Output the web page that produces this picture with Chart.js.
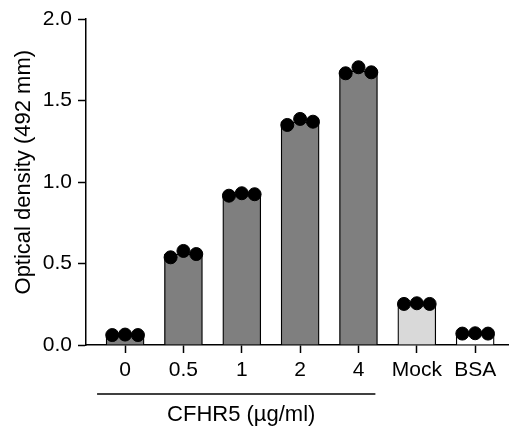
<!DOCTYPE html>
<html>
<head>
<meta charset="utf-8">
<script src="https://cdn.jsdelivr.net/npm/chart.js@4"></script>
<style>
  html, body { margin: 0; padding: 0; background: #fff; }
  #wrap { width: 509px; height: 430px; }
</style>
</head>
<body>
<div id="wrap"><canvas id="chart"></canvas></div>
<script>
// データ
const categories = ['0', '0.5', '1', '2', '4', 'Mock', 'BSA'];
const replicates = [
    [0.061, 0.064, 0.061],
    [0.538, 0.577, 0.558],
    [0.916, 0.931, 0.925],
    [1.350, 1.387, 1.370],
    [1.667, 1.704, 1.673],
    [0.252, 0.256, 0.252],
    [0.070, 0.072, 0.070]
];
const barFills = ['#7f7f7f', '#7f7f7f', '#7f7f7f', '#7f7f7f', '#7f7f7f', '#d9d9d9', '#ffffff'];
const yTicks = [0, 0.5, 1.0, 1.5, 2.0];
const yTitle = 'Optical density (492 mm)';
const groupLabel = 'CFHR5 (µg/ml)';
const dotOffsets = [-0.22, 0, 0.22];

const FONT = '"Liberation Sans", Arial, sans-serif';

const means = replicates.map(r => r.reduce((a, b) => a + b, 0) / r.length);
const barData = means.map((v, i) => ({ x: i, y: v }));
const dotData = [];
replicates.forEach((r, i) => {
    r.forEach((v, j) => dotData.push({ x: i + dotOffsets[j], y: v }));
});

// 縦軸タイトルと CFHR5 の括弧線
const labelPlugin = {
    id: 'labelPlugin',
    afterDraw(chart) {
        const ctx = chart.ctx;
        const xs = chart.scales.x;
        const ys = chart.scales.y;
        const base = chart.chartArea.bottom;
        const x1 = xs.getPixelForValue(-0.48);
        const x2 = xs.getPixelForValue(4.29);
        ctx.save();
        ctx.strokeStyle = '#000';
        ctx.lineWidth = 1.5;
        ctx.beginPath();
        ctx.moveTo(x1, base + 49);
        ctx.lineTo(x2, base + 49);
        ctx.stroke();
        ctx.fillStyle = '#000';
        ctx.font = '22px ' + FONT;
        ctx.textAlign = 'center';
        ctx.textBaseline = 'middle';
        ctx.fillText(groupLabel, (x1 + x2) / 2 + 5, base + 70);

        // 縦軸タイトル
        ctx.translate(24, ys.getPixelForValue(1.06));
        ctx.rotate(-Math.PI / 2);
        ctx.fillText(yTitle, 0, 0);
        ctx.restore();
    }
};

new Chart(document.getElementById('chart'), {
    data: {
        datasets: [{
            type: 'scatter',
            data: dotData,
            backgroundColor: '#000',
            borderColor: '#000',
            pointRadius: 6.5,
            pointHoverRadius: 6.5,
            order: 0
        }, {
            type: 'bar',
            data: barData,
            backgroundColor: barFills,
            borderColor: '#000',
            borderWidth: 1.3,
            barThickness: 38,
            order: 1
        }]
    },
    options: {
        responsive: true,
        maintainAspectRatio: false,
        animation: false,
        layout: { autoPadding: false, padding: { top: 19, right: 0, bottom: 0, left: 0 } },
        plugins: {
            legend: { display: false },
            tooltip: { enabled: false }
        },
        scales: {
            x: {
                type: 'linear',
                offset: false,
                min: -0.67,
                max: 6.58,
                afterBuildTicks(scale) {
                    scale.ticks = categories.map((c, i) => ({ value: i }));
                },
                afterFit(scale) { scale.height = 85; },
                ticks: {
                    callback: (v) => categories[v],
                    color: '#000',
                    font: { family: FONT, size: 21 },
                    padding: 5,
                    maxRotation: 0,
                    autoSkip: false
                },
                grid: {
                    offset: false,
                    drawOnChartArea: false,
                    drawTicks: true,
                    tickLength: 8,
                    tickWidth: 1.5,
                    color: '#000'
                },
                border: { color: '#000', width: 1.5 }
            },
            y: {
                min: 0,
                max: 2.0,
                afterBuildTicks(scale) {
                    scale.ticks = yTicks.map(v => ({ value: v }));
                },
                afterFit(scale) { scale.width = 86; },
                ticks: {
                    callback: (v) => Number(v).toFixed(1),
                    color: '#000',
                    font: { family: FONT, size: 21 },
                    padding: 6
                },
                grid: {
                    drawOnChartArea: false,
                    drawTicks: true,
                    tickLength: 8,
                    tickWidth: 1.5,
                    color: '#000'
                },
                border: { color: '#000', width: 1.5 }
            }
        }
    },
    plugins: [labelPlugin]
});
</script>
</body>
</html>
